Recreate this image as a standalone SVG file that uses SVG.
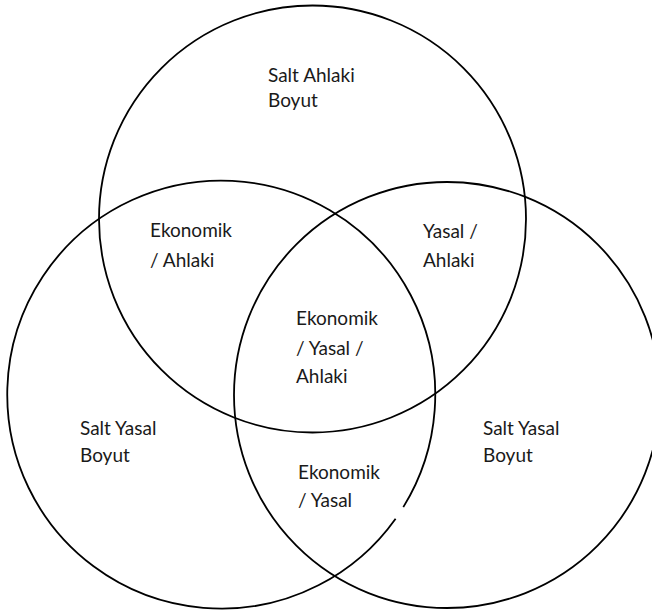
<svg xmlns="http://www.w3.org/2000/svg" width="652" height="610" viewBox="0 0 652 610">
<style>
.c{fill:none;stroke:#000;stroke-width:1.8}
.t{font-family:Lato,"Open Sans","Liberation Sans",sans-serif;font-size:19px;fill:#1a1a1a}
</style>
<rect width="652" height="610" fill="#fff"/>
<g id="connectors"></g>
<g id="circle-ahlaki"><circle class="c" cx="312.5" cy="219" r="213.5"/></g>
<g id="circle-left"><path class="c" d="M 403.3 507.1 A 214 214 0 1 0 395.6 518.7"/></g>
<g id="circle-right"><circle class="c" cx="447" cy="395" r="213"/></g>
<g id="label-salt-ahlaki"><text class="t" x="268" y="82">Salt Ahlaki</text><text class="t" x="268" y="107">Boyut</text></g>
<g id="label-ekonomik-ahlaki"><text class="t" x="150" y="237">Ekonomik</text><text class="t" x="150" y="267">/ Ahlaki</text></g>
<g id="label-yasal-ahlaki"><text class="t" x="423" y="238">Yasal /</text><text class="t" x="423" y="267">Ahlaki</text></g>
<g id="label-center"><text class="t" x="296" y="325">Ekonomik</text><text class="t" x="296" y="355">/ Yasal /</text><text class="t" x="296" y="383">Ahlaki</text></g>
<g id="label-salt-yasal-left"><text class="t" x="80" y="435">Salt Yasal</text><text class="t" x="80" y="462">Boyut</text></g>
<g id="label-salt-yasal-right"><text class="t" x="483" y="435">Salt Yasal</text><text class="t" x="483" y="462">Boyut</text></g>
<g id="label-ekonomik-yasal"><text class="t" x="298" y="479">Ekonomik</text><text class="t" x="298" y="507">/ Yasal</text></g>
</svg>
